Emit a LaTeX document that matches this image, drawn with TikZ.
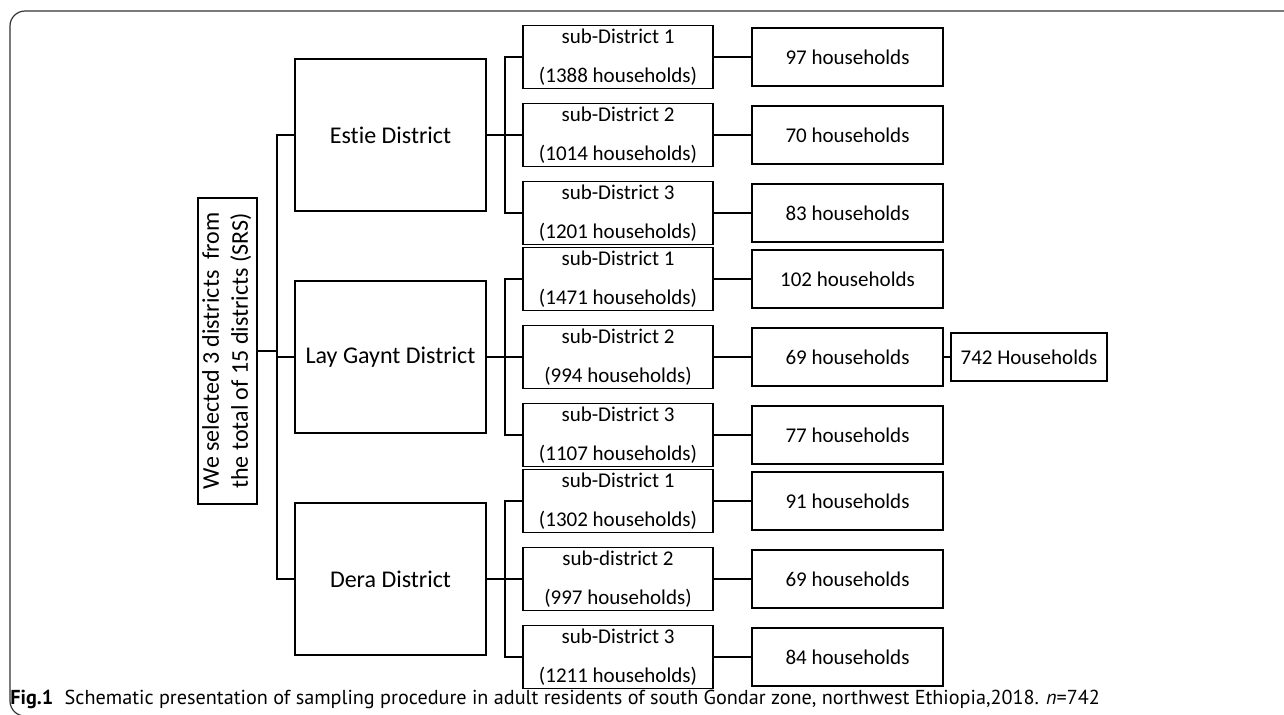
\documentclass[tikz,border=0pt]{standalone}
\usepackage{fontspec}
\setmainfont{Carlito}[Ligatures=NoCommon]
\newfontfamily\capfont{PT Sans}
\usepackage{tikz}
\usetikzlibrary{positioning}
\tikzstyle{selection} = [rectangle, minimum width=29.5pt, minimum height=153pt, inner sep=0pt, text centered, draw=black, line width=0.9pt, font=\fontsize{12}{14.5}\selectfont]
\tikzstyle{district} = [rectangle, minimum width=95.5pt, minimum height=76pt, inner sep=0pt, text centered, draw=black, line width=0.9pt, font=\fontsize{12}{14.5}\selectfont]
\tikzstyle{subdistrict} = [rectangle, minimum width=95pt, minimum height=31.5pt, inner sep=0pt, align=center, draw=black, line width=0.9pt, font=\fontsize{10.5}{19.5}\selectfont]
\tikzstyle{household} = [rectangle, minimum width=95.5pt, minimum height=29pt, inner sep=0pt, text centered, draw=black, line width=0.9pt, font=\fontsize{10.5}{12.6}\selectfont]
\tikzstyle{sumbox} = [rectangle, minimum width=78pt, minimum height=24pt, inner sep=0pt, text centered, draw=black, line width=0.9pt, font=\fontsize{10.5}{12.6}\selectfont]
\tikzstyle{link} = [line width=0.8pt]

\begin{document}
\begin{tikzpicture}[node distance=111pt]
        \useasboundingbox (0,0) rectangle (642pt,-357pt);
        \begin{scope}
            \clip (0,0) rectangle (642pt,-357pt);
            \draw [line width=0.6pt, black!80, rounded corners=7.5pt] (660pt,-5.5pt) -- (5pt,-5.5pt) -- (5pt,-358pt) -- (660pt,-358pt);
        \end{scope}
        \node (dist2) [district] at (195.25pt,-178.5pt) {Lay Gaynt District};
        \node (dist1) [district, above of=dist2] {Estie District};
        \node (dist3) [district, below of=dist2] {Dera District};
        \node (root) [selection, left of=dist2, xshift=29.5pt, yshift=3pt] {\rotatebox{90}{\begin{tabular}{@{}c@{}}We selected 3 districts\ \ from\\ the total of 15 districts (SRS)\end{tabular}}};
        \node (sub12) [subdistrict, right of=dist1, xshift=2.75pt] {sub-District 2\\(1014 households)};
        \node (sub11) [subdistrict, node distance=39pt, above of=sub12] {sub-District 1\\(1388 households)};
        \node (sub13) [subdistrict, node distance=39pt, below of=sub12] {sub-District 3\\(1201 households)};
        \node (sub22) [subdistrict, right of=dist2, xshift=2.75pt] {sub-District 2\\(994 households)};
        \node (sub21) [subdistrict, node distance=39pt, above of=sub22] {sub-District 1\\(1471 households)};
        \node (sub23) [subdistrict, node distance=39pt, below of=sub22] {sub-District 3\\(1107 households)};
        \node (sub32) [subdistrict, right of=dist3, xshift=2.75pt] {sub-district 2\\(997 households)};
        \node (sub31) [subdistrict, node distance=39pt, above of=sub32] {sub-District 1\\(1302 households)};
        \node (sub33) [subdistrict, node distance=39pt, below of=sub32] {sub-District 3\\(1211 households)};
        \node (hh11) [household, right of=sub11, xshift=3.75pt] {97 households};
        \node (hh12) [household, right of=sub12, xshift=3.75pt] {70 households};
        \node (hh13) [household, right of=sub13, xshift=3.75pt] {83 households};
        \node (hh21) [household, right of=sub21, xshift=3.75pt] {102 households};
        \node (hh22) [household, right of=sub22, xshift=3.75pt] {69 households};
        \node (hh23) [household, right of=sub23, xshift=3.75pt] {77 households};
        \node (hh31) [household, right of=sub31, xshift=3.75pt] {91 households};
        \node (hh32) [household, right of=sub32, xshift=3.75pt] {69 households};
        \node (hh33) [household, right of=sub33, xshift=3.75pt] {84 households};
        \node (total) [sumbox, right of=hh22, xshift=-20.25pt] {742 Households};
        \node (caption) [anchor=base west, inner sep=0pt, font=\capfont\fontsize{10.1}{12}\selectfont] at (5pt,-352.3pt) {\textbf{Fig.1}\hspace{3pt} Schematic presentation of sampling procedure in adult residents of south Gondar zone, northwest Ethiopia,2018. \textit{n}=742};
        \draw [link] (root.east) -- ++(9.5pt,0) |- (dist1.west);
        \draw [link] (root.east) -- ++(9.5pt,0) |- (dist2.west);
        \draw [link] (root.east) -- ++(9.5pt,0) |- (dist3.west);
        \draw [link] (dist1.east) -- ++(9pt,0) |- (sub11.west);
        \draw [link] (dist1.east) -- ++(9pt,0) |- (sub12.west);
        \draw [link] (dist1.east) -- ++(9pt,0) |- (sub13.west);
        \draw [link] (dist2.east) -- ++(9pt,0) |- (sub21.west);
        \draw [link] (dist2.east) -- ++(9pt,0) |- (sub22.west);
        \draw [link] (dist2.east) -- ++(9pt,0) |- (sub23.west);
        \draw [link] (dist3.east) -- ++(9pt,0) |- (sub31.west);
        \draw [link] (dist3.east) -- ++(9pt,0) |- (sub32.west);
        \draw [link] (dist3.east) -- ++(9pt,0) |- (sub33.west);
        \draw [link] (sub11) -- (hh11);
        \draw [link] (sub12) -- (hh12);
        \draw [link] (sub13) -- (hh13);
        \draw [link] (sub21) -- (hh21);
        \draw [link] (sub22) -- (hh22);
        \draw [link] (sub23) -- (hh23);
        \draw [link] (sub31) -- (hh31);
        \draw [link] (sub32) -- (hh32);
        \draw [link] (sub33) -- (hh33);
        \draw [link] (hh22) -- (total);
\end{tikzpicture}
\end{document}
